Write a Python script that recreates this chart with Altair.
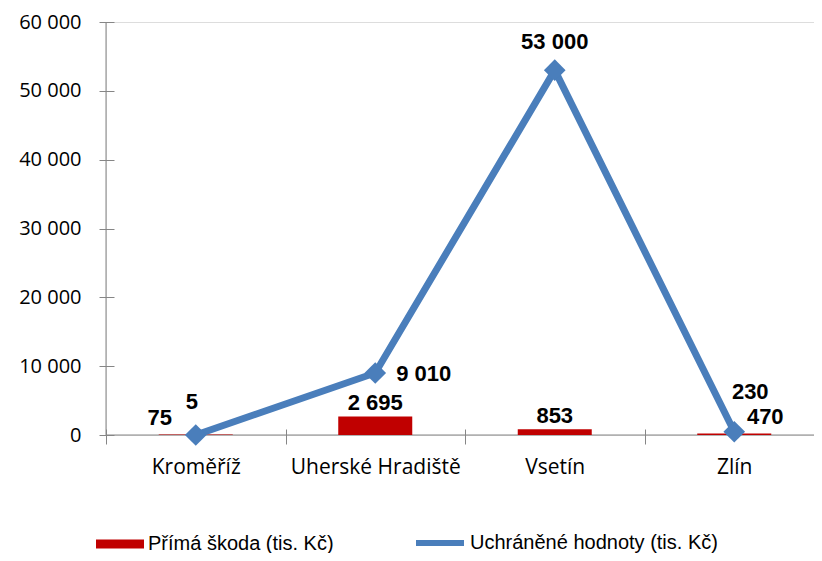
import altair as alt
import pandas as pd

# ---- data ----
categories = ["Kroměříž", "Uherské Hradiště", "Vsetín", "Zlín"]
prima_skoda = [75, 2695, 853, 230]
uchranene = [5, 9010, 53000, 470]
series_names = ["Přímá škoda (tis. Kč)", "Uchráněné hodnoty (tis. Kč)"]
y_ticks = [0, 10000, 20000, 30000, 40000, 50000, 60000]

df = pd.DataFrame({
    "kraj": categories,
    "skoda": prima_skoda,
    "uchranene": uchranene,
    "s_bar": [series_names[0]] * len(categories),
    "s_line": [series_names[1]] * len(categories),
})

RED = "#C00000"
BLUE = "#4A7EBB"
GRAY = "#868686"
AXIS_FONT = "Open Sans"
LABEL_FONT = "Liberation Sans"

PLOT_W = 708
x_scale = alt.Scale(domain=categories, paddingInner=0, paddingOuter=0, range=[0, 718])
y_scale = alt.Scale(domain=[0, 60000], nice=False, zero=True)

x_axis = alt.Axis(
    title=None, labelAngle=0, domain=False, offset=-6, tickSize=15,
    tickBand="extent", tickColor=GRAY, tickWidth=1, labelFont=AXIS_FONT,
    labelFontSize=21, labelColor="#000", labelPadding=12, grid=False,
)
y_axis = alt.Axis(
    title=None, values=y_ticks, format=",d", domain=False, offset=-8,
    tickSize=15, tickColor=GRAY, tickWidth=1, labelFont=AXIS_FONT,
    labelFontSize=20, labelColor="#000", labelPadding=18, grid=False,
)


def xenc():
    return alt.X("kraj:N", scale=x_scale, sort=categories, axis=x_axis)


def yenc(field):
    return alt.Y(f"{field}:Q", scale=y_scale, axis=y_axis)


one_row = pd.DataFrame({"kraj": categories[:1]})

x_domain_rule = alt.Chart(one_row).mark_rule(color=GRAY, strokeWidth=1).encode(
    y=alt.YDatum(0, type="quantitative", scale=y_scale, axis=y_axis)
)
y_domain_rule = alt.Chart(one_row).mark_rule(color=GRAY, strokeWidth=1).encode(
    x=alt.XDatum(categories[0], type="nominal", bandPosition=0, scale=x_scale, axis=x_axis)
)

bars = alt.Chart(df).mark_bar(size=74).encode(
    x=xenc(),
    y=yenc("skoda"),
    color=alt.Color(
        "s_bar:N",
        scale=alt.Scale(domain=[series_names[0]], range=[RED]),
        legend=alt.Legend(
            title=None, orient="none", legendX=-10, legendY=498,
            symbolType="M-1,-0.19H1V0.19H-1Z", symbolSize=2304,
            symbolStrokeWidth=0, labelFont=LABEL_FONT, labelFontSize=20,
            labelColor="#000", labelOffset=4, labelLimit=400, padding=0,
        ),
    ),
)

line = alt.Chart(df).mark_line(strokeWidth=7).encode(
    x=xenc(),
    y=yenc("uchranene"),
    stroke=alt.Stroke(
        "s_line:N",
        scale=alt.Scale(domain=[series_names[1]], range=[BLUE]),
        legend=alt.Legend(
            title=None, orient="none", legendX=307, legendY=494,
            symbolType="M-1,0H1", symbolSize=2304, symbolStrokeWidth=6,
            labelFont=LABEL_FONT, labelFontSize=20, labelColor="#000",
            labelOffset=3, labelLimit=400, padding=0,
        ),
    ),
)

points = alt.Chart(df).mark_point(
    shape="diamond", filled=True, size=470, color=BLUE, opacity=1
).encode(x=xenc(), y=yenc("uchranene"))


def label(field, cat, dx, dy, align="center"):
    return (
        alt.Chart(df)
        .transform_filter(alt.datum.kraj == cat)
        .mark_text(
            font=LABEL_FONT, fontSize=22, fontWeight="bold", color="#000",
            dx=dx, dy=dy, align=align, baseline="alphabetic",
        )
        .encode(x=xenc(), y=yenc(field), text=alt.Text(f"{field}:Q", format=",d"))
    )


labels = [
    label("skoda", categories[0], -36, -9),
    label("skoda", categories[1], 0, -6),
    label("skoda", categories[2], 0, -6),
    label("skoda", categories[3], 16, -34),
    label("uchranene", categories[0], -4, -26),
    label("uchranene", categories[1], 21, 8, align="left"),
    label("uchranene", categories[2], 0, -21),
    label("uchranene", categories[3], 31, -8),
]

chart = (
    alt.layer(x_domain_rule, y_domain_rule, bars, line, points, *labels)
    .properties(
        width=PLOT_W, height=413, autosize="none",
        padding={"left": 98, "top": 14, "right": 0, "bottom": 118},
    )
    .configure_view(stroke=None)
    .configure(
        locale={"number": {"decimal": ",", "thousands": "\u00a0",
                           "grouping": [3], "currency": ["", ""]}}
    )
)

chart.save("out.html", embed_options={"renderer": "svg", "actions": False})
